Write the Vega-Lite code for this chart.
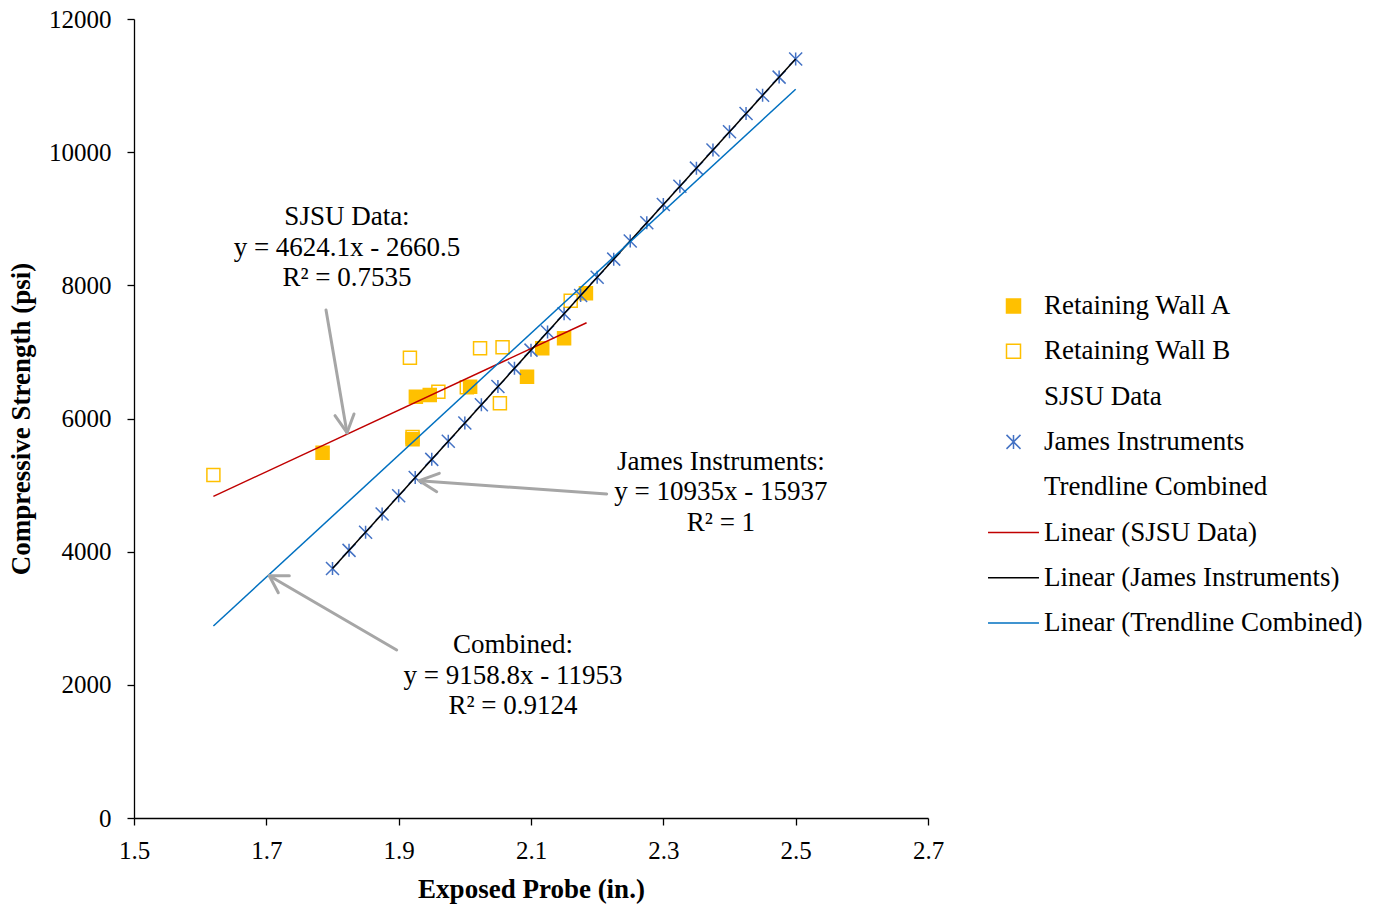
{
  "$schema": "https://vega.github.io/schema/vega-lite/v6.json",
  "autosize": {"type": "none"},
  "padding": {"left": 134, "top": 19, "right": 446, "bottom": 89},
  "width": 794,
  "height": 799,
  "background": "white",
  "config": {
    "view": {"stroke": null},
    "font": "Liberation Serif",
    "axis": {
      "grid": false,
      "domainColor": "black",
      "domainWidth": 1.3,
      "tickColor": "black",
      "tickWidth": 1.3,
      "tickSize": 7,
      "labelColor": "black",
      "labelFont": "Liberation Serif",
      "labelFontSize": 25,
      "titleColor": "black",
      "titleFont": "Liberation Serif",
      "titleFontSize": 27,
      "titleFontWeight": "bold"
    },
    "legend": {
      "labelFont": "Liberation Serif",
      "labelFontSize": 27,
      "labelColor": "black"
    }
  },
  "datasets": {
    "points": [
      {"series": "Retaining Wall A", "x": 1.785, "y": 5487},
      {"series": "Retaining Wall A", "x": 1.926, "y": 6328},
      {"series": "Retaining Wall A", "x": 1.947, "y": 6353},
      {"series": "Retaining Wall A", "x": 2.008, "y": 6475},
      {"series": "Retaining Wall A", "x": 1.921, "y": 5690},
      {"series": "Retaining Wall A", "x": 2.094, "y": 6628},
      {"series": "Retaining Wall A", "x": 2.117, "y": 7055},
      {"series": "Retaining Wall A", "x": 2.150, "y": 7205},
      {"series": "Retaining Wall A", "x": 2.183, "y": 7880},
      {"series": "Retaining Wall B", "x": 1.620, "y": 5152},
      {"series": "Retaining Wall B", "x": 1.917, "y": 6914},
      {"series": "Retaining Wall B", "x": 1.960, "y": 6403},
      {"series": "Retaining Wall B", "x": 2.003, "y": 6469},
      {"series": "Retaining Wall B", "x": 2.023, "y": 7055},
      {"series": "Retaining Wall B", "x": 2.057, "y": 7070},
      {"series": "Retaining Wall B", "x": 2.053, "y": 6228},
      {"series": "Retaining Wall B", "x": 2.160, "y": 7770},
      {"series": "Retaining Wall B", "x": 1.921, "y": 5722},
      {"series": "James Instruments", "x": 1.8, "y": 3746},
      {"series": "James Instruments", "x": 1.825, "y": 4019.4},
      {"series": "James Instruments", "x": 1.85, "y": 4292.8},
      {"series": "James Instruments", "x": 1.875, "y": 4566.1},
      {"series": "James Instruments", "x": 1.9, "y": 4839.5},
      {"series": "James Instruments", "x": 1.925, "y": 5112.9},
      {"series": "James Instruments", "x": 1.95, "y": 5386.3},
      {"series": "James Instruments", "x": 1.975, "y": 5659.6},
      {"series": "James Instruments", "x": 2.0, "y": 5933},
      {"series": "James Instruments", "x": 2.025, "y": 6206.4},
      {"series": "James Instruments", "x": 2.05, "y": 6479.8},
      {"series": "James Instruments", "x": 2.075, "y": 6753.1},
      {"series": "James Instruments", "x": 2.1, "y": 7026.5},
      {"series": "James Instruments", "x": 2.125, "y": 7299.9},
      {"series": "James Instruments", "x": 2.15, "y": 7573.3},
      {"series": "James Instruments", "x": 2.175, "y": 7846.6},
      {"series": "James Instruments", "x": 2.2, "y": 8120},
      {"series": "James Instruments", "x": 2.225, "y": 8393.4},
      {"series": "James Instruments", "x": 2.25, "y": 8666.8},
      {"series": "James Instruments", "x": 2.275, "y": 8940.1},
      {"series": "James Instruments", "x": 2.3, "y": 9213.5},
      {"series": "James Instruments", "x": 2.325, "y": 9486.9},
      {"series": "James Instruments", "x": 2.35, "y": 9760.3},
      {"series": "James Instruments", "x": 2.375, "y": 10033.6},
      {"series": "James Instruments", "x": 2.4, "y": 10307},
      {"series": "James Instruments", "x": 2.425, "y": 10580.4},
      {"series": "James Instruments", "x": 2.45, "y": 10853.8},
      {"series": "James Instruments", "x": 2.475, "y": 11127.1},
      {"series": "James Instruments", "x": 2.5, "y": 11400.5}
    ],
    "lines": [
      {"series": "Linear (SJSU Data)", "x": 1.62, "y": 4830.5},
      {"series": "Linear (SJSU Data)", "x": 2.184, "y": 7438.5},
      {"series": "Linear (James Instruments)", "x": 1.8, "y": 3746},
      {"series": "Linear (James Instruments)", "x": 2.5, "y": 11400.5},
      {"series": "Linear (Trendline Combined)", "x": 1.62, "y": 2884.3},
      {"series": "Linear (Trendline Combined)", "x": 2.5, "y": 10944}
    ],
    "arrows": [
      {"x": 1.7902, "y": 7630, "x2": 1.8219, "y2": 5787},
      {"x": 1.8038, "y": 6042, "x2": 1.8219, "y2": 5787},
      {"x": 1.8325, "y": 6068, "x2": 1.8219, "y2": 5787},
      {"x": 2.2144, "y": 4866, "x2": 1.9312, "y2": 5066},
      {"x": 1.9614, "y": 5177, "x2": 1.9312, "y2": 5066},
      {"x": 1.9575, "y": 4901, "x2": 1.9312, "y2": 5066},
      {"x": 1.8970, "y": 2523, "x2": 1.7045, "y2": 3639},
      {"x": 1.7347, "y": 3639, "x2": 1.7045, "y2": 3639},
      {"x": 1.7181, "y": 3384, "x2": 1.7045, "y2": 3639}
    ],
    "notes": [
      {"x": 1.8219, "y": 9026, "text": "SJSU Data:"},
      {"x": 1.8219, "y": 8561, "text": "y = 4624.1x - 2660.5"},
      {"x": 1.8219, "y": 8110, "text": "R² = 0.7535"},
      {"x": 2.3871, "y": 5347, "text": "James Instruments:"},
      {"x": 2.3871, "y": 4896, "text": "y = 10935x - 15937"},
      {"x": 2.3871, "y": 4431, "text": "R² = 1"},
      {"x": 2.0728, "y": 2598, "text": "Combined:"},
      {"x": 2.0728, "y": 2133, "text": "y = 9158.8x - 11953"},
      {"x": 2.0728, "y": 1682, "text": "R² = 0.9124"}
    ]
  },
  "layer": [
    {
      "data": {"name": "points"},
      "mark": {"type": "point", "strokeWidth": 1.5, "opacity": 1, "size": 169},
      "encoding": {
        "x": {
          "field": "x", "type": "quantitative",
          "scale": {"domain": [1.5, 2.7], "nice": false, "zero": false},
          "axis": {"title": "Exposed Probe (in.)", "values": [1.5, 1.7, 1.9, 2.1, 2.3, 2.5, 2.7], "format": ".1f", "labelPadding": 13, "titlePadding": 13, "labelFlush": false}
        },
        "y": {
          "field": "y", "type": "quantitative",
          "scale": {"domain": [0, 12000], "nice": false, "zero": false},
          "axis": {"title": "Compressive Strength (psi)", "values": [0, 2000, 4000, 6000, 8000, 10000, 12000], "format": "d", "labelPadding": 16, "titlePadding": 13, "labelFlush": false}
        },
        "shape": {
          "field": "series", "type": "nominal",
          "scale": {
            "domain": ["Retaining Wall A", "Retaining Wall B", "SJSU Data", "James Instruments", "Trendline Combined", "Linear (SJSU Data)", "Linear (James Instruments)", "Linear (Trendline Combined)"],
            "range": ["square", "square", "square", "M-1,-1L1,1M1,-1L-1,1M0,-1L0,1", "square", "M-3.64,0L3.64,0", "M-3.64,0L3.64,0", "M-3.64,0L3.64,0"]
          },
          "legend": {
            "title": null, "orient": "none", "legendX": 866, "legendY": 273.5,
            "padding": 0, "rowPadding": 17.3, "labelOffset": 17, "symbolSize": 196, "symbolStrokeWidth": 1.5,
            "labelLimit": 400
          }
        },
        "stroke": {
          "field": "series", "type": "nominal",
          "scale": {
            "domain": ["Retaining Wall A", "Retaining Wall B", "SJSU Data", "James Instruments", "Trendline Combined", "Linear (SJSU Data)", "Linear (James Instruments)", "Linear (Trendline Combined)"],
            "range": ["#FFC000", "#FFC000", "transparent", "#4472C4", "transparent", "#C00000", "#000000", "#0070C0"]
          },
          "legend": {
            "title": null, "orient": "none", "legendX": 866, "legendY": 273.5,
            "padding": 0, "rowPadding": 17.3, "labelOffset": 17, "symbolSize": 196, "symbolStrokeWidth": 1.5,
            "labelLimit": 400
          }
        },
        "fill": {
          "field": "series", "type": "nominal",
          "scale": {
            "domain": ["Retaining Wall A", "Retaining Wall B", "SJSU Data", "James Instruments", "Trendline Combined", "Linear (SJSU Data)", "Linear (James Instruments)", "Linear (Trendline Combined)"],
            "range": ["#FFC000", "transparent", "transparent", "transparent", "transparent", "transparent", "transparent", "transparent"]
          },
          "legend": {
            "title": null, "orient": "none", "legendX": 866, "legendY": 273.5,
            "padding": 0, "rowPadding": 17.3, "labelOffset": 17, "symbolSize": 196, "symbolStrokeWidth": 1.5,
            "labelLimit": 400
          }
        }
      }
    },
    {
      "data": {"name": "lines"},
      "mark": {"type": "line", "strokeWidth": 1.5},
      "encoding": {
        "x": {"field": "x", "type": "quantitative"},
        "y": {"field": "y", "type": "quantitative"},
        "stroke": {
          "field": "series", "type": "nominal",
          "scale": {
            "domain": ["Retaining Wall A", "Retaining Wall B", "SJSU Data", "James Instruments", "Trendline Combined", "Linear (SJSU Data)", "Linear (James Instruments)", "Linear (Trendline Combined)"],
            "range": ["#FFC000", "#FFC000", "transparent", "#4472C4", "transparent", "#C00000", "#000000", "#0070C0"]
          }
        }
      }
    },
    {
      "data": {"name": "arrows"},
      "mark": {"type": "rule", "color": "#A6A6A6", "strokeWidth": 3, "strokeCap": "round"},
      "encoding": {
        "x": {"field": "x", "type": "quantitative"},
        "y": {"field": "y", "type": "quantitative"},
        "x2": {"field": "x2"},
        "y2": {"field": "y2"}
      }
    },
    {
      "data": {"name": "notes"},
      "mark": {"type": "text", "font": "Liberation Serif", "fontSize": 27, "align": "center", "baseline": "middle", "color": "black"},
      "encoding": {
        "x": {"field": "x", "type": "quantitative"},
        "y": {"field": "y", "type": "quantitative"},
        "text": {"field": "text"}
      }
    }
  ]
}
